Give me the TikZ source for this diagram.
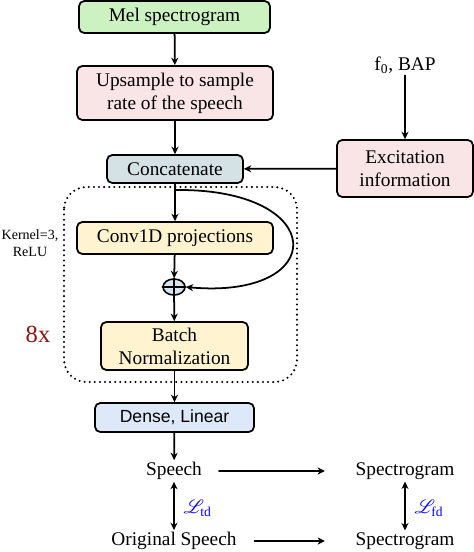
\documentclass[tikz,border=0pt]{standalone}
\usepackage{fontspec}
\usepackage{mathrsfs}
\setmainfont{Liberation Serif}
\newfontfamily\arialfont{Liberation Sans}
\usetikzlibrary{shapes.geometric,arrows.meta}
\definecolor{melgreen}{RGB}{204,242,194}
\definecolor{upspink}{RGB}{249,229,229}
\definecolor{catblue}{RGB}{212,226,230}
\definecolor{convyellow}{RGB}{255,243,208}
\definecolor{denseblue}{RGB}{221,232,248}
\definecolor{plusblue}{RGB}{214,228,240}
\definecolor{eightred}{RGB}{140,20,20}
\tikzset{
	blk/.style={draw, line width=1pt, rounded corners=3pt, align=center, inner sep=1pt},
	lbl/.style={inner sep=1pt},
	lossname/.style={text=blue, inner sep=1pt},
	flow/.style={line width=1pt}
}
\begin{document}
\begin{tikzpicture}[x=0.02cm, y=-0.02cm, font=\fontsize{11}{13}\selectfont, line join=round, line cap=round, >={Stealth[length=4.2pt, width=4pt, inset=1.3pt]}]
	\useasboundingbox (0,0) rectangle (474,552);
	% blocks of the network
	\node[blk, fill=melgreen, minimum width=3.82cm, minimum height=0.64cm] (mel) at (174.5,17) {Mel spectrogram};
	\node[blk, fill=upspink, minimum width=3.92cm, minimum height=1.08cm] (ups) at (175,93) {Upsample to sample\\rate of the speech};
	\node[blk, fill=catblue, minimum width=2.72cm, minimum height=0.56cm] (cat) at (175,169) {Concatenate};
	\node[lbl] (fbap) at (405,65) {f\textsubscript{0}, BAP};
	\node[blk, fill=upspink, minimum width=2.72cm, minimum height=1.14cm] (exc) at (405,168.5) {Excitation\\information};
	\node[blk, fill=convyellow, minimum width=3.92cm, minimum height=0.64cm] (conv) at (175,238) {Conv1D projections};
	\node[draw, line width=0.9pt, ellipse, fill=plusblue, minimum width=0.44cm, minimum height=0.32cm, inner sep=0pt] (plus) at (174,287) {};
	\node[blk, fill=convyellow, minimum width=2.94cm, minimum height=0.96cm] (bn) at (174.5,346) {Batch\\Normalization};
	\node[blk, fill=denseblue, minimum width=3.18cm, minimum height=0.58cm, font=\arialfont\fontsize{10}{12}\selectfont] (dense) at (174.5,417.5) {Dense, Linear};
	\node[lbl] (speech) at (174,471) {Speech};
	\node[lbl] (spec) at (405,471) {Spectrogram};
	\node[lbl] (orig) at (174,541) {Original Speech};
	\node[lbl] (specorig) at (405,541) {Spectrogram};
	% repeated block
	\draw[line width=1.3pt, dash pattern=on 0pt off 2.9pt, rounded corners=0.45cm] (64,187) rectangle (297,382);
	\node[lbl, align=center, font=\fontsize{8}{9.5}\selectfont] (kern) at (30,243) {Kernel=3,\\ReLU};
	\node[lbl, text=eightred, font=\fontsize{14}{16}\selectfont] (rep) at (38,334) {8x};
	% plus sign
	\draw[line width=0.8pt] (plus.north) -- (plus.south) (plus.west) -- (plus.east);
	% arrows
	\coordinate (split) at (175,190);
	\draw[->, flow] (mel) -- (ups);
	\draw[->, flow] (ups) -- (cat);
	\draw[->, flow] (fbap) -- (exc);
	\draw[->, flow] (exc) -- (cat);
	\draw[->, flow] (cat) -- (conv);
	\draw[->, flow] (conv) -- (plus);
	\draw[->, flow] (split) .. controls (330,188) and (330,300) .. (plus.east);
	\draw[->, flow] (plus) -- (bn);
	\draw[->, flow] (bn) -- (dense);
	\draw[->, flow] (dense) -- (speech);
	\path (speech.east) ++(15,0) coordinate (sp1);
	\path (orig.east) ++(16,0) coordinate (or1);
	\coordinate (sp2) at (325,471);
	\coordinate (or2) at (325,541);
	\draw[->, flow] (sp1) -- (sp2);
	\draw[->, flow] (or1) -- (or2);
	\draw[<->, flow] (speech) -- node[lossname, right=4pt, pos=0.55] (ltd) {$\mathscr{L}_{\mathrm{td}}$} (orig);
	\draw[<->, flow] (spec) -- node[lossname, right=4pt, pos=0.55] (lfd) {$\mathscr{L}_{\mathrm{fd}}$} (specorig);
\end{tikzpicture}
\end{document}
